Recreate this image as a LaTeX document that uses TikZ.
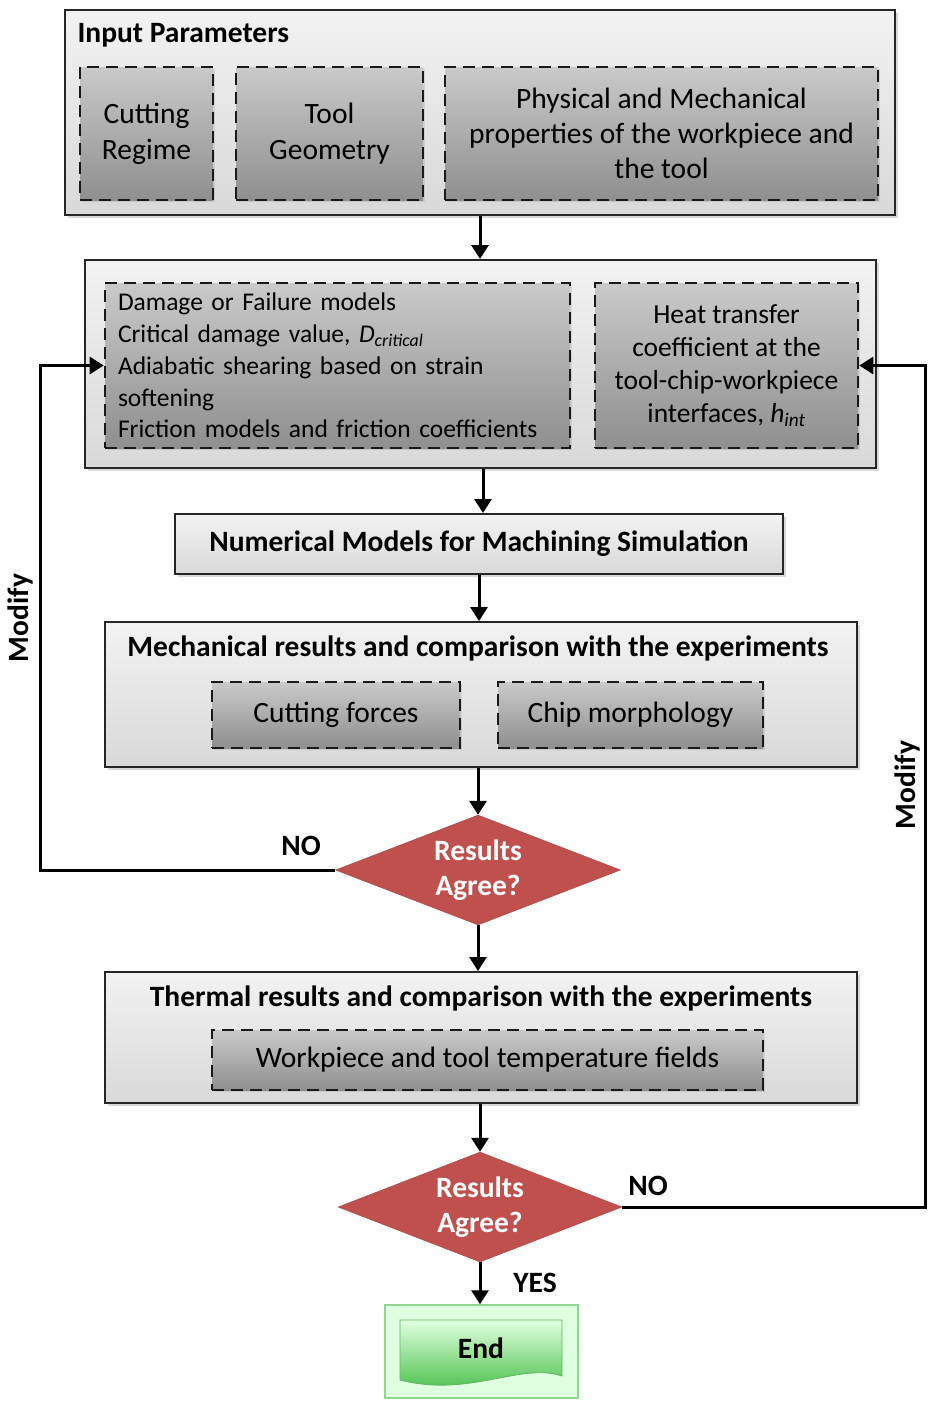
\documentclass[tikz,border=0pt]{standalone}
\usepackage{fontspec}
\setmainfont{Carlito}
\usetikzlibrary{positioning,shapes.geometric,arrows.meta,shadows}

\definecolor{decred}{HTML}{C0504D}
\definecolor{endgreen}{HTML}{3DBB3D}

\begin{document}
\begin{tikzpicture}[
  x=1pt,y=-1pt,
  every node/.style={font=\fontsize{29.5}{36}\selectfont},
  panel/.style={draw=black!85,line width=2pt,top color=gray!10,bottom color=gray!30,inner sep=0pt,
    drop shadow={opacity=0.3,shadow xshift=3pt,shadow yshift=-3pt}},
  item/.style={draw=black!90,line width=2.6pt,dash pattern=on 12pt off 7pt,top color=gray!42,bottom color=gray!88,align=center,inner sep=0pt,
    drop shadow={opacity=0.2,shadow xshift=2pt,shadow yshift=-2pt}},
  head/.style={font=\fontsize{29.5}{36}\selectfont\bfseries},
  decision/.style={diamond,aspect=2.6,draw=decred!85!black,fill=decred,text=white,align=center,inner sep=0pt,font=\fontsize{29.5}{35}\selectfont\bfseries},
  flow/.style={-{Triangle[length=14pt,width=17pt]},line width=3pt},
]
  \useasboundingbox (0,0) rectangle (927,1401);

  % input parameters
  \node[panel,minimum width=830,minimum height=205] (inputs) at (480,112.5) {};
  \node[head,anchor=west] (inhead) at (74,35) {Input Parameters};
  \node[item,minimum width=133,minimum height=133] (regime) at (146.5,133.5) {Cutting\\Regime};
  \node[item,minimum width=187,minimum height=133] (geom) at (329.5,133.5) {Tool\\Geometry};
  \node[item,minimum width=433,minimum height=133,font=\fontsize{29.5}{35}\selectfont] (props) at (661.5,133.5)
    {Physical and Mechanical\\properties of the workpiece and\\the tool};

  % model settings
  \node[panel,minimum width=791,minimum height=208] (models) at (480.5,364) {};
  \node[item,minimum width=465,minimum height=165,text width=439,align=left,
    font=\fontsize{25.5}{31.8}\selectfont] (dmg) at (337.5,365.5)
    {Damage or Failure models\\
     Critical damage value, \textit{D}\textsubscript{\itshape critical}\\
     Adiabatic shearing based on strain\\
     softening\\
     Friction models and friction coefficients};
  \node[item,minimum width=263,minimum height=165,font=\fontsize{27.5}{33}\selectfont] (heat) at (726.5,365.5)
    {Heat transfer\\coefficient at the\\tool-chip-workpiece\\interfaces, \textit{h}\textsubscript{\itshape int}};

  % simulation
  \node[panel,minimum width=608,minimum height=60,head] (sim) at (479,544)
    {Numerical Models for Machining Simulation};

  % mechanical results
  \node[panel,minimum width=752,minimum height=145] (mech) at (481,694.5) {};
  \node[head] (mechhead) at (478,648) {Mechanical results and comparison with the experiments};
  \node[item,minimum width=248,minimum height=66] (forces) at (336,715) {Cutting forces};
  \node[item,minimum width=265,minimum height=66] (chip) at (630.5,715) {Chip morphology};

  \node[decision,minimum width=285,minimum height=110] (agree1) at (478,870) {Results\\Agree?};

  % thermal results
  \node[panel,minimum width=752,minimum height=131] (therm) at (481,1037.5) {};
  \node[head] (thermhead) at (481,998) {Thermal results and comparison with the experiments};
  \node[item,minimum width=551,minimum height=60] (temp) at (487.5,1060)
    {Workpiece and tool temperature fields};

  \node[decision,minimum width=284,minimum height=110] (agree2) at (480,1207) {Results\\Agree?};

  % end
  \node[draw=green!45!gray!60,fill=green!12,line width=1.5pt,minimum width=193,minimum height=93] (finish) at (481.5,1351.5) {};
  \shade[top color=green!12,bottom color=endgreen,draw=green!50!black!60,line width=0.8pt]
    (400,1320) -- (562,1320) -- (562,1376) .. controls (520,1362) and (470,1398) .. (400,1380) -- cycle;
  \node[head] (endtext) at (481,1348) {End};

  % connectors
  \draw[flow] (inputs.south) -- (inputs.south |- models.north);
  \draw[flow] (483,0 |- models.south) -- (483,0 |- sim.north);
  \draw[flow] (sim.south) -- (sim.south |- mech.north);
  \draw[flow] (agree1.north |- mech.south) -- (agree1.north);
  \draw[flow] (agree1.south) -- (agree1.south |- therm.north);
  \draw[flow] (agree2.north |- therm.south) -- (agree2.north);
  \draw[flow] (agree2.south) -- (agree2.south |- finish.north);

  \coordinate (lbend) at (40,870);
  \coordinate (rbend) at (925,1207);
  \draw[flow] (agree1.west) -- (lbend) |- (dmg.west);
  \draw[flow] (agree2.east) -- (rbend) |- (heat.east);

  \node[head] (no1) at (301,846) {NO};
  \node[head] (no2) at (648,1186) {NO};
  \node[head] (yes) at (535,1283) {YES};
  \node[head,rotate=90] (mod1) at (20,618) {Modify};
  \node[head,rotate=90] (mod2) at (907,785) {Modify};
\end{tikzpicture}
\end{document}
